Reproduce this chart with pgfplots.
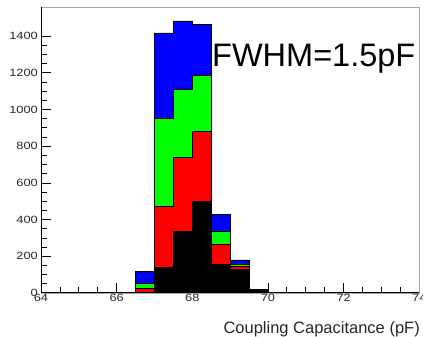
\documentclass[border=0pt]{standalone}
\usepackage{fontspec}
\setmainfont{Liberation Sans}
\newfontfamily\tickfont[FakeStretch=1.22]{Liberation Sans}
\usepackage{pgfplots}
\pgfplotsset{compat=1.18}
\usetikzlibrary{calc}
\definecolor{rblue}{RGB}{0,0,255}
\definecolor{rgreen}{RGB}{0,255,0}
\definecolor{rred}{RGB}{255,0,0}
\begin{document}
\begin{tikzpicture}
\begin{axis}[
  name=ax,
  scale only axis,
  width=378.3pt, height=286pt,
  xmin=64, xmax=74, ymin=0, ymax=1559,
  xtick={64,66,68,70,72,74}, ytick={0,200,...,1400},
  minor x tick num=3, minor y tick num=3,
  xtick pos=bottom, ytick pos=left,
  tick align=inside,
  major tick length=10pt, minor tick length=5.5pt,
  tick style={black, line width=0.8pt},
  axis line style={draw=gray!70, line width=0.5pt},
  /pgf/number format/assume math mode=true,
  /pgf/number format/1000 sep={},
  tick label style={font=\tickfont\fontsize{10.5}{12}\selectfont, text=black!85},
  yticklabel style={anchor=east, inner sep=0pt, xshift=-3pt},
  xticklabel style={anchor=north, inner sep=0pt, yshift=-1pt},
  xlabel={Coupling Capacitance (pF)},
  xlabel style={at={(rel axis cs:1,0)}, anchor=base east, inner sep=0pt, yshift=-41pt, xshift=0.7pt, font=\fontsize{16.5}{19}\selectfont, text=black!85},
  every axis plot/.append style={const plot mark left, draw=black, line width=0.7pt},
]
% blue: total stack
\addplot[fill=rblue] coordinates {(65.5,3) (66,3) (66.5,116) (67,1418) (67.5,1483) (68,1463) (68.5,429) (69,180) (69.5,20) (70,5) (70.5,5)} \closedcycle;
% green cumulative
\addplot[fill=rgreen] coordinates {(65.5,3) (66,3) (66.5,52) (67,951) (67.5,1109) (68,1187) (68.5,338) (69,158) (69.5,20) (70,5) (70.5,5)} \closedcycle;
% red cumulative
\addplot[fill=rred] coordinates {(65.5,3) (66,3) (66.5,25) (67,474) (67.5,739) (68,882) (68.5,265) (69,143) (69.5,20) (70,5) (70.5,5)} \closedcycle;
% black
\addplot[fill=black] coordinates {(65.5,3) (66,3) (66.5,2) (67,140) (67.5,334) (68,497) (68.5,158) (69,128) (69.5,20) (70,5) (70.5,5)} \closedcycle;
\node[anchor=base west, inner sep=0pt, font=\fontsize{32.5}{36}\selectfont] at (axis cs:68.52,1232) {FWHM=1.5pF};
\draw[black, line width=1pt] (rel axis cs:0,1) -- (rel axis cs:0,0) -- (rel axis cs:1,0);
\end{axis}
\pgfresetboundingbox
\path ($(ax.south west)+(-41pt,-44pt)$) rectangle ($(ax.north east)+(3.7pt,7pt)$);
\end{tikzpicture}
\end{document}
